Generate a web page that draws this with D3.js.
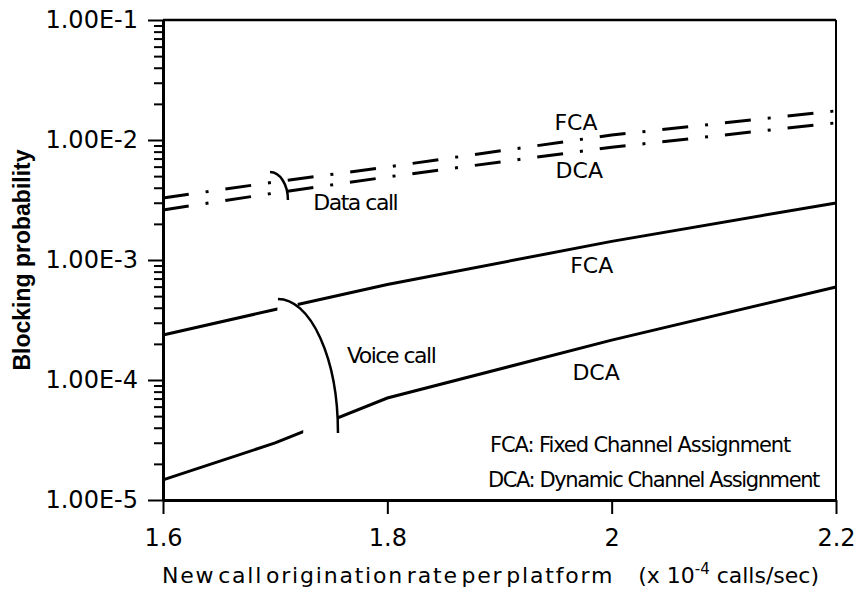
<!DOCTYPE html>
<html>
<head>
<meta charset="utf-8">
<script src="https://cdn.jsdelivr.net/npm/d3@7"></script>
<style>
  body { margin: 0; background: #fff; }
  svg { display: block; }
  text { font-family: "DejaVu Sans", sans-serif; fill: #000; }
  .tick line { stroke: #000; stroke-width: 2; }
  .domain { stroke: #000; stroke-width: 3; }
  .curve { fill: none; stroke: #000; stroke-width: 3; }
  .datacurve { stroke-dasharray: 26, 17, 3, 17; }
  .bracket { fill: none; stroke: #000; stroke-width: 2.5; }
</style>
</head>
<body>
<div id="chart"></div>
<script>

// new call origination rate (x 10^-4 calls/sec)
let rates = [1.6, 1.7, 1.8, 2.0, 2.2];

// blocking probability
let voiceFCA = [2.37e-4, 3.87e-4, 6.25e-4, 1.43e-3, 2.99e-3];
let voiceDCA = [1.47e-5, 2.99e-5, 7.08e-5, 2.15e-4, 5.96e-4];
let dataFCA = [3.29e-3, 4.47e-3, 5.96e-3, 1.10e-2, 1.75e-2];
let dataDCA = [2.61e-3, 3.62e-3, 4.92e-3, 8.70e-3, 1.39e-2];

// where the voice curves are broken by the "Voice call" bracket
let voiceFCAGap = [1.702, 1.72];
let voiceDCAGap = [1.725, 1.756];

let xTicks = [1.6, 1.8, 2.0, 2.2];
let yTicks = [1e-5, 1e-4, 1e-3, 1e-2, 1e-1];

// curve labels (text, rate, probability)
let curveLabels = ["FCA", "DCA", "FCA", "DCA"];
let curveLabelX = [1.949, 1.950, 1.963, 1.965];
let curveLabelY = [1.21e-2, 4.82e-3, 7.79e-4, 1.0e-4];

let callLabels = ["Data call", "Voice call"];
let callLabelX = [1.734, 1.764];
let callLabelY = [2.61e-3, 1.39e-4];

let legendLines = ["FCA: Fixed Channel Assignment", "DCA: Dynamic Channel Assignment"];
let legendX = [1.8915, 1.8897];
let legendY = [2.5e-5, 1.28e-5];

// brackets: [centre rate, centre prob, right rate, top prob]
let dataBracket = [1.6954, 3.16e-3, 1.7114, 5.41e-3];
let voiceBracket = [1.7025, 3.62e-5, 1.756, 4.73e-4];

let margin = {top: 20, right: 26, bottom: 107, left: 163};
let svgWidth = 862, svgHeight = 607;
let width = svgWidth - margin.left - margin.right;
let height = svgHeight - margin.top - margin.bottom;

let svg = d3.select("#chart").append("svg")
  .attr("width", svgWidth)
  .attr("height", svgHeight);

let g = svg.append("g")
  .attr("transform", "translate(" + margin.left + "," + margin.top + ")");

let x = d3.scaleLinear().domain([1.6, 2.2]).range([0, width]);
let y = d3.scaleLog().domain([1e-5, 1e-1]).range([height, 0]);

// minor ticks on the log axis (2..9 in every decade)
let minorTicks = [];
yTicks.slice(0, -1).forEach(d => {
  for (let k = 2; k <= 9; k++) minorTicks.push(d * k);
});

g.append("g")
  .call(d3.axisLeft(y).tickValues(minorTicks).tickSize(9).tickFormat(""))
  .call(a => a.select(".domain").remove());

g.append("g")
  .call(d3.axisLeft(y).tickValues(yTicks).tickSize(15).tickSizeOuter(0).tickPadding(10)
    .tickFormat(d => d3.format(".2e")(d).toUpperCase()))
  .selectAll("text").style("font-size", "24px");

g.append("g")
  .attr("transform", "translate(0," + height + ")")
  .call(d3.axisBottom(x).tickValues(xTicks).tickSize(14).tickSizeOuter(0).tickPadding(15)
    .tickFormat(d3.format("")))
  .selectAll("text").style("font-size", "24px");

// frame: top and right
g.append("line").attr("x1", 0).attr("x2", width).attr("y1", 0).attr("y2", 0)
  .attr("stroke", "#000").attr("stroke-width", 2.5);
g.append("line").attr("x1", width).attr("x2", width).attr("y1", 0).attr("y2", height)
  .attr("stroke", "#000").attr("stroke-width", 2);

let line = d3.line()
  .x(d => x(d[0]))
  .y(d => y(d[1]));

// clip paths that leave a gap in a curve
function gapClip(id, gap){
  let cp = svg.append("defs").append("clipPath").attr("id", id);
  cp.append("rect").attr("x", -5).attr("y", -5)
    .attr("width", x(gap[0]) + 5).attr("height", height + 10);
  cp.append("rect").attr("x", x(gap[1])).attr("y", -5)
    .attr("width", width - x(gap[1]) + 5).attr("height", height + 10);
}
gapClip("gapFCA", voiceFCAGap);
gapClip("gapDCA", voiceDCAGap);

g.append("path")
  .datum(d3.zip(rates, voiceFCA))
  .attr("class", "curve")
  .attr("clip-path", "url(#gapFCA)")
  .attr("d", line);

g.append("path")
  .datum(d3.zip(rates, voiceDCA))
  .attr("class", "curve")
  .attr("clip-path", "url(#gapDCA)")
  .attr("d", line);

[dataFCA, dataDCA].forEach(s => {
  g.append("path")
    .datum(d3.zip(rates, s))
    .attr("class", "curve datacurve")
    .attr("d", line);
});

// quarter-ellipse brackets
[dataBracket, voiceBracket].forEach(b => {
  let cx = x(b[0]), cy = y(b[1]);
  let rx = x(b[2]) - cx, ry = cy - y(b[3]);
  g.append("path")
    .attr("class", "bracket")
    .attr("d", "M" + cx + "," + (cy - ry) + " A" + rx + "," + ry + " 0 0 1 " + (cx + rx) + "," + cy);
});

g.selectAll(".curvelabel")
  .data(curveLabels)
  .enter().append("text")
  .attr("class", "curvelabel")
  .attr("x", (d, i) => x(curveLabelX[i]))
  .attr("y", (d, i) => y(curveLabelY[i]))
  .style("font-size", "22px")
  .text(d => d);

g.selectAll(".calllabel")
  .data(callLabels)
  .enter().append("text")
  .attr("class", "calllabel")
  .attr("x", (d, i) => x(callLabelX[i]))
  .attr("y", (d, i) => y(callLabelY[i]))
  .style("font-size", "22px")
  .style("letter-spacing", "-1.5px")
  .text(d => d);

g.selectAll(".legendline")
  .data(legendLines)
  .enter().append("text")
  .attr("class", "legendline")
  .attr("x", (d, i) => x(legendX[i]))
  .attr("y", (d, i) => y(legendY[i]))
  .style("font-size", "21px")
  .style("letter-spacing", (d, i) => i ? "-1.4px" : "-1.1px")
  .text(d => d);

// axis titles
svg.append("text")
  .attr("transform", "translate(30," + (margin.top + 240) + ") rotate(-90)")
  .attr("text-anchor", "middle")
  .style("font-family", "'Liberation Sans', Arial, sans-serif")
  .style("font-weight", "bold")
  .style("font-size", "23px")
  .text("Blocking probability");

let xTitle = svg.append("text")
  .attr("x", margin.left - 1)
  .attr("y", 583)
  .style("font-size", "22px");
xTitle.append("tspan")
  .style("letter-spacing", "1.8px")
  .style("word-spacing", "-6px")
  .text("New call origination rate per platform");
xTitle.append("tspan").attr("dx", 24).text("(x 10");
xTitle.append("tspan").attr("dy", -9).style("font-size", "15px").text("-4");
xTitle.append("tspan").attr("dy", 9).text(" calls/sec)");

</script>
</body>
</html>
